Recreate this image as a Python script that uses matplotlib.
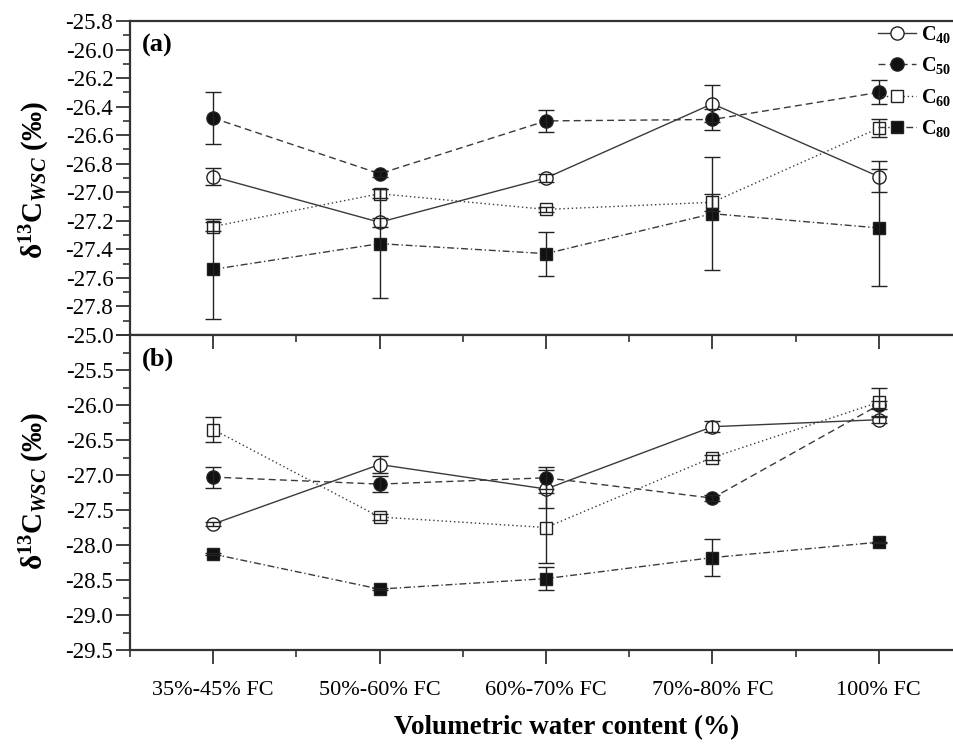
import numpy as np
import matplotlib
matplotlib.use("Agg")
import matplotlib.pyplot as plt
from matplotlib.ticker import MultipleLocator, FixedLocator, FixedFormatter
from matplotlib.lines import Line2D

plt.rcParams['font.family'] = ['Liberation Serif', 'DejaVu Serif']
plt.rcParams['mathtext.fontset'] = 'custom'
plt.rcParams['mathtext.rm'] = 'Liberation Serif:bold'
plt.rcParams['mathtext.bf'] = 'Liberation Serif:bold'
plt.rcParams['mathtext.it'] = 'Liberation Serif:italic:bold'

categories = ["35%-45% FC", "50%-60% FC", "60%-70% FC", "70%-80% FC", "100% FC"]
series_names = ["C$_{40}$", "C$_{50}$", "C$_{60}$", "C$_{80}$"]

# panel (a)
a_c40 = [-26.89, -27.21, -26.90, -26.38, -26.89]
a_c40_err = [0.06, 0.03, 0.025, 0.13, 0.11]
a_c50 = [-26.48, -26.87, -26.50, -26.49, -26.30]
a_c50_err = [0.185, 0.02, 0.075, 0.075, 0.085]
a_c60 = [-27.24, -27.01, -27.12, -27.07, -26.55]
a_c60_err = [0.03, 0.03, 0.02, 0.06, 0.065]
a_c80 = [-27.54, -27.36, -27.43, -27.15, -27.25]
a_c80_err = [0.35, 0.38, 0.155, 0.395, 0.41]

# panel (b)
b_c40 = [-27.70, -26.85, -27.20, -26.31, -26.21]
b_c40_err = [0.03, 0.12, 0.27, 0.08, 0.04]
b_c50 = [-27.03, -27.13, -27.04, -27.33, -26.00]
b_c50_err = [0.15, 0.11, 0.16, 0.04, 0.05]
b_c60 = [-26.35, -27.60, -27.75, -26.75, -25.96]
b_c60_err = [0.18, 0.04, 0.50, 0.03, 0.20]
b_c80 = [-28.13, -28.63, -28.48, -28.18, -27.96]
b_c80_err = [0.01, 0.01, 0.16, 0.26, 0.01]

a_yticks = [-25.8, -26.0, -26.2, -26.4, -26.6, -26.8, -27.0, -27.2, -27.4, -27.6, -27.8, -28.0]
a_yticklabels = ["-25.8", "-26.0", "-26.2", "-26.4", "-26.6", "-26.8", "-27.0",
                 "-27.2", "-27.4", "-27.6", "-27.8", ""]
b_yticks = [-25.0, -25.5, -26.0, -26.5, -27.0, -27.5, -28.0, -28.5, -29.0, -29.5]
b_yticklabels = ["-25.0", "-25.5", "-26.0", "-26.5", "-27.0", "-27.5", "-28.0",
                 "-28.5", "-29.0", "-29.5"]

W, H = 954, 747
fig = plt.figure(figsize=(W / 100, H / 100), dpi=100)

left_px, right_px = 130, 962
ax_a = fig.add_axes([left_px / W, 1 - 335 / H, (right_px - left_px) / W, (335 - 21) / H])
ax_b = fig.add_axes([left_px / W, 1 - 650 / H, (right_px - left_px) / W, (650 - 335) / H])

x = np.arange(1, len(categories) + 1)
line_col = '#3a3a3a'
styles = [
    dict(marker='o', mfc='white', ls='-', ms=9.5),
    dict(marker='o', mfc='#111111', ls=(0, (5, 3)), ms=9.5),
    dict(marker='s', mfc='white', ls=(0, (1, 2)), ms=8.5),
    dict(marker='s', mfc='#111111', ls=(0, (5, 2, 1, 2)), ms=8.5),
]

def draw(ax, vals, errs):
    for v, e, st in zip(vals, errs, styles):
        ax.plot(x, v, color=line_col, lw=1.0, ls=st['ls'], marker=st['marker'],
                ms=st['ms'], mfc=st['mfc'], mec='#222222', mew=1.0, zorder=3)
        ax.errorbar(x, v, yerr=e, fmt='none', ecolor='#222222', elinewidth=1.0,
                    capsize=6, capthick=1.0, zorder=4)

draw(ax_a, [a_c40, a_c50, a_c60, a_c80], [a_c40_err, a_c50_err, a_c60_err, a_c80_err])
draw(ax_b, [b_c40, b_c50, b_c60, b_c80], [b_c40_err, b_c50_err, b_c60_err, b_c80_err])

for ax in (ax_a, ax_b):
    ax.set_xlim(0.5, 5.5)
    for s in ax.spines.values():
        s.set_linewidth(1.6)
        s.set_color('#333333')
    ax.tick_params(axis='y', which='major', direction='out', length=10, width=1.3,
                   labelsize=16.5, color='#333333', pad=2)
    ax.tick_params(axis='y', which='minor', direction='out', length=5, width=1.2, color='#333333')
    ax.tick_params(axis='y', right=False, which='both')

ax_a.set_ylim(-28.0, -25.8)
ax_a.yaxis.set_major_locator(FixedLocator(a_yticks))
ax_a.yaxis.set_major_formatter(FixedFormatter(a_yticklabels))
ax_a.yaxis.set_minor_locator(MultipleLocator(0.1))
ax_a.tick_params(axis='x', which='both', bottom=False, top=False, labelbottom=False)

ax_b.set_ylim(-29.5, -25.0)
ax_b.yaxis.set_major_locator(FixedLocator(b_yticks))
ax_b.yaxis.set_major_formatter(FixedFormatter(b_yticklabels))
ax_b.yaxis.set_minor_locator(MultipleLocator(0.25))
ax_b.set_xticks(x)
ax_b.set_xticklabels(categories)
ax_b.xaxis.set_minor_locator(MultipleLocator(1.0, offset=0.5))
ax_b.tick_params(axis='x', which='major', top=True, bottom=True, length=10, width=1.3,
                 labelsize=16, color='#333333', pad=12)
ax_b.tick_params(axis='x', which='minor', top=True, bottom=True, length=5, width=1.2, color='#333333')
# top ticks inward, bottom outward
for t in ax_b.xaxis.get_major_ticks() + ax_b.xaxis.get_minor_ticks():
    t.tick1line.set_marker(3)
    t.tick2line.set_marker(3)

ax_a.text(0.014, 0.96, "(a)", transform=ax_a.transAxes, fontsize=19, fontweight='bold',
          ha='left', va='top')
ax_b.text(0.014, 0.96, "(b)", transform=ax_b.transAxes, fontsize=19, fontweight='bold',
          ha='left', va='top')

ylab = "δ$^{13}$C$_{\\mathit{WSC}}$ (‰)"
fig.text(35 / W, 1 - 180 / H, ylab, rotation=90, ha='center', va='center',
         fontsize=21, fontweight='bold')
fig.text(35 / W, 1 - 491 / H, ylab, rotation=90, ha='center', va='center',
         fontsize=21, fontweight='bold')
fig.text(567 / W, 1 - 728 / H, "Volumetric water content (%)", ha='center', va='center',
         fontsize=19.5, fontweight='bold')

handles = [Line2D([0], [0], color=line_col, lw=1.0, ls=st['ls'], marker=st['marker'],
                  ms=st['ms'], mfc=st['mfc'], mec='#222222', mew=1.0) for st in styles]
leg = ax_a.legend(handles, series_names, loc='upper left',
                  bbox_to_anchor=(878 / W, 1 - 24 / H), bbox_transform=fig.transFigure,
                  frameon=False, borderpad=0, borderaxespad=0, handlelength=1.9,
                  handletextpad=0.25, labelspacing=0.52,
                  prop={'family': 'Liberation Serif', 'weight': 'bold', 'size': 14.5})

fig.savefig("out.png", dpi=100)
